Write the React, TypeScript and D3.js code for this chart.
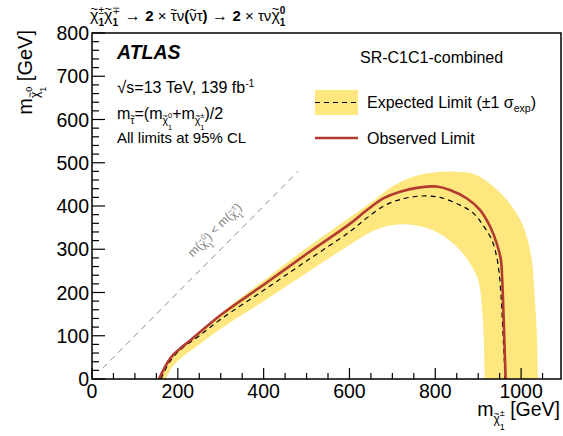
import React, { useEffect, useRef } from 'react';
import * as d3 from 'd3';

const W = 563;
const H = 436;
const xDomain = [0, 1093];
const yDomain = [0, 800];
const xMajorTicks = [0, 200, 400, 600, 800, 1000];
const yMajorTicks = [0, 100, 200, 300, 400, 500, 600, 700, 800];
const xMinorStep = 50;
const yMinorStep = 20;

// m(chargino), m(neutralino) in GeV
const expectedLimit: [number, number][] = [
  [161, 0], [170, 20], [180, 38], [195, 57], [215, 75], [250, 100], [300, 138], [400, 205], [500, 273],
  [600, 340], [640, 372], [680, 400], [718, 415], [765, 423], [811, 420], [858, 402], [888, 384], [911, 356],
  [932, 321], [943, 283], [949, 244], [954, 180], [958, 100], [961, 40], [962, 0],
];
const observedLimit: [number, number][] = [
  [156, 0], [166, 20], [177, 40], [190, 57], [205, 70], [232, 92], [300, 148], [400, 218], [500, 289],
  [600, 358], [640, 390], [680, 418], [718, 433], [765, 443], [803, 445], [834, 437], [873, 418], [904, 391],
  [928, 352], [943, 314], [953, 275], [956, 229], [959, 150], [962, 60], [964, 0],
];
const bandUpper: [number, number][] = [
  [156, 0], [165, 20], [176, 40], [200, 66], [250, 107], [300, 152], [400, 228], [500, 303],
  [600, 373], [650, 408], [700, 445], [750, 468], [800, 478], [850, 479], [890, 474], [928, 451], [967, 414],
  [998, 368], [1013, 329], [1025, 275], [1031, 200], [1036, 120], [1038, 50], [1039, 0],
];
const bandLower: [number, number][] = [
  [172, 0], [185, 25], [200, 42], [250, 80], [300, 116], [400, 180], [500, 245], [600, 310],
  [650, 340], [700, 356], [749, 356], [803, 340], [850, 306], [881, 267], [900, 229], [910, 150],
  [914, 60], [915, 0],
];
const kinematicLine: [number, number][] = [[25, 25], [480, 480]];

type Run = { t: string; s: number; dy?: number; b?: boolean; i?: boolean; tilde?: boolean; stack?: boolean };
const FONT = "'Liberation Sans', Arial, Helvetica, sans-serif";

function rich(parent: any, runs: Run[], x: number, y: number, anchor: 'start' | 'end' | 'middle', fill = '#000') {
  const outer = parent.append('g');
  const g = outer.append('g');
  let cx = 0;
  let pending = 0;
  for (const r of runs) {
    const t = g.append('text')
      .attr('x', cx)
      .attr('y', r.dy || 0)
      .attr('fill', fill)
      .style('font-family', FONT)
      .style('font-size', r.s + 'px')
      .style('font-weight', r.b ? 'bold' : 'normal')
      .style('font-style', r.i ? 'italic' : 'normal')
      .style('white-space', 'pre')
      .text(r.t);
    const w = (t.node() as SVGTextElement).getComputedTextLength();
    if (r.tilde) {
      g.append('text')
        .attr('x', cx + w / 2)
        .attr('y', (r.dy || 0) - r.s * 0.5)
        .attr('text-anchor', 'middle')
        .attr('fill', fill)
        .style('font-family', FONT)
        .style('font-size', r.s * 0.8 + 'px')
        .text('~');
    }
    if (r.stack) {
      pending = Math.max(pending, w);
    } else {
      cx += Math.max(w, pending);
      pending = 0;
    }
  }
  const off = anchor === 'end' ? -cx : anchor === 'middle' ? -cx / 2 : 0;
  g.attr('transform', `translate(${off},0)`);
  outer.attr('transform', `translate(${x},${y})`);
  return outer;
}

export default function App() {
  const ref = useRef<SVGSVGElement>(null);
  useEffect(() => {
    const svg = d3.select(ref.current);
    svg.selectAll('*').remove();
    const x = d3.scaleLinear().domain(xDomain).range([92, 561]);
    const y = d3.scaleLinear().domain(yDomain).range([379, 33]);

    svg.append('defs').append('clipPath').attr('id', 'plotclip')
      .append('rect').attr('x', 92).attr('y', 33).attr('width', 469).attr('height', 346);
    const plot = svg.append('g').attr('clip-path', 'url(#plotclip)');

    const line = d3.line<[number, number]>().x((d) => x(d[0])).y((d) => y(d[1])).curve(d3.curveCatmullRom.alpha(0.5));
    const up = line(bandUpper) as string;
    const lo = (line(bandLower.slice().reverse()) as string).replace(/^M/, 'L');
    plot.append('path').attr('d', up + lo + 'Z').attr('fill', '#fde77e').attr('stroke', 'none');

    // kinematic line
    plot.append('path').attr('d', d3.line<[number, number]>().x((d) => x(d[0])).y((d) => y(d[1]))(kinematicLine) as string)
      .attr('stroke', '#8c8c8c').attr('stroke-width', 1).attr('stroke-dasharray', '6,5').attr('fill', 'none');

    plot.append('path').attr('d', line(expectedLimit) as string).attr('fill', 'none')
      .attr('stroke', '#000').attr('stroke-width', 1.2).attr('stroke-dasharray', '5,4');
    plot.append('path').attr('d', line(observedLimit) as string).attr('fill', 'none')
      .attr('stroke', '#b23a2e').attr('stroke-width', 2.6);

    // kinematic label
    const lab = svg.append('g').attr('transform', `translate(${x(258) - 10},${y(258) - 10}) rotate(-45)`);
    rich(lab, [
      { t: 'm(', s: 12 }, { t: 'χ', s: 11, dy: 2, tilde: true }, { t: '0', s: 8, dy: -4, stack: true }, { t: '1', s: 8, dy: 7 },
      { t: ') < m(', s: 12 }, { t: 'χ', s: 11, dy: 2, tilde: true }, { t: '±', s: 8, dy: -4, stack: true }, { t: '1', s: 8, dy: 7 },
      { t: ')', s: 12 },
    ], 0, 0, 'start', '#808080');

    // frame
    svg.append('rect').attr('x', 92).attr('y', 33).attr('width', 469).attr('height', 346)
      .attr('fill', 'none').attr('stroke', '#000').attr('stroke-width', 1.5);

    // ticks
    const axes = svg.append('g').attr('stroke', '#000').attr('stroke-width', 1.2);
    for (let v = 0; v <= xDomain[1]; v += xMinorStep) {
      const major = xMajorTicks.includes(v);
      axes.append('line').attr('x1', x(v)).attr('x2', x(v)).attr('y1', 379).attr('y2', 379 - (major ? 11 : 6));
    }
    for (let v = 0; v <= yDomain[1]; v += yMinorStep) {
      const major = yMajorTicks.includes(v);
      axes.append('line').attr('x1', 92).attr('x2', 92 + (major ? 13 : 7)).attr('y1', y(v)).attr('y2', y(v));
    }
    xMajorTicks.forEach((v) => {
      svg.append('text').attr('x', x(v)).attr('y', 398).attr('text-anchor', 'middle')
        .style('font-family', FONT).style('font-size', '19.5px').text(String(v));
    });
    yMajorTicks.forEach((v) => {
      svg.append('text').attr('x', 89).attr('y', y(v)).attr('dy', '0.36em').attr('text-anchor', 'end')
        .style('font-family', FONT).style('font-size', '19.5px').text(String(v));
    });

    // axis titles
    rich(svg, [
      { t: 'm', s: 19.5 }, { t: 'χ', s: 12, dy: 7, tilde: true }, { t: '±', s: 9, dy: 0, stack: true }, { t: '1', s: 9, dy: 14 },
      { t: ' [GeV]', s: 19.5 },
    ], 560, 416, 'end');
    const yl = svg.append('g').attr('transform', 'translate(32,30) rotate(-90)');
    rich(yl, [
      { t: 'm', s: 20 }, { t: 'χ', s: 12, dy: 7, tilde: true }, { t: '0', s: 9, dy: 0, stack: true }, { t: '1', s: 9, dy: 14 },
      { t: ' [GeV]', s: 20 },
    ], 0, 0, 'end');

    // title
    rich(svg, [
      { t: 'χ', s: 16, tilde: true }, { t: '±', s: 10, dy: -7, stack: true }, { t: '1', s: 10, dy: 5, b: true },
      { t: 'χ', s: 16, tilde: true }, { t: '∓', s: 10, dy: -7, stack: true }, { t: '1', s: 10, dy: 5, b: true },
      { t: ' → ', s: 16 }, { t: '2', s: 15, b: true }, { t: ' × ', s: 15 },
      { t: 'τ', s: 15, tilde: true }, { t: 'ν', s: 15 }, { t: '(', s: 15, b: true }, { t: 'ν', s: 15, tilde: true },
      { t: 'τ', s: 15 }, { t: ')', s: 15, b: true }, { t: ' → ', s: 16 }, { t: '2', s: 15, b: true }, { t: ' × ', s: 15 },
      { t: 'τν', s: 15 }, { t: 'χ', s: 16, tilde: true }, { t: '0', s: 10, dy: -7, b: true, stack: true }, { t: '1', s: 10, dy: 5, b: true },
    ], 90, 21, 'start');

    // ATLAS block
    svg.append('text').attr('x', 117).attr('y', 59).style('font-family', FONT).style('font-size', '19.5px')
      .style('font-weight', 'bold').style('font-style', 'italic').text('ATLAS');
    rich(svg, [{ t: '√', s: 17 }, { t: 's=13 TeV, 139 fb', s: 16 }, { t: '-1', s: 10.5, dy: -6.5 }], 117, 93, 'start');
    rich(svg, [
      { t: 'm', s: 16 }, { t: 'τ', s: 10.5, dy: 5, tilde: true }, { t: '=(m', s: 16 },
      { t: 'χ', s: 10.5, dy: 5, tilde: true }, { t: '0', s: 7.5, dy: -1, stack: true }, { t: '1', s: 7.5, dy: 10.5 },
      { t: '+m', s: 16 }, { t: 'χ', s: 10.5, dy: 5, tilde: true }, { t: '±', s: 7.5, dy: -1, stack: true }, { t: '1', s: 7.5, dy: 10.5 },
      { t: ')/2', s: 16 },
    ], 117, 119, 'start');
    svg.append('text').attr('x', 117).attr('y', 143).style('font-family', FONT).style('font-size', '15px').text('All limits at 95% CL');

    // legend
    svg.append('text').attr('x', 360).attr('y', 63).style('font-family', FONT).style('font-size', '16px').text('SR-C1C1-combined');
    svg.append('rect').attr('x', 315).attr('y', 90).attr('width', 43).attr('height', 25).attr('fill', '#fde77e');
    svg.append('line').attr('x1', 315).attr('x2', 358).attr('y1', 102.5).attr('y2', 102.5)
      .attr('stroke', '#000').attr('stroke-width', 1.2).attr('stroke-dasharray', '5,4');
    rich(svg, [{ t: 'Expected Limit (±1 σ', s: 16 }, { t: 'exp', s: 10.5, dy: 4 }, { t: ')', s: 16 }], 367, 108, 'start');
    svg.append('line').attr('x1', 315).attr('x2', 358).attr('y1', 138).attr('y2', 138)
      .attr('stroke', '#b23a2e').attr('stroke-width', 2.6);
    svg.append('text').attr('x', 367).attr('y', 143.5).style('font-family', FONT).style('font-size', '16px').text('Observed Limit');
  }, []);
  return (
    <svg ref={ref} width={W} height={H} style={{ position: 'absolute', left: 0, top: 0, background: '#fff' }} />
  );
}
